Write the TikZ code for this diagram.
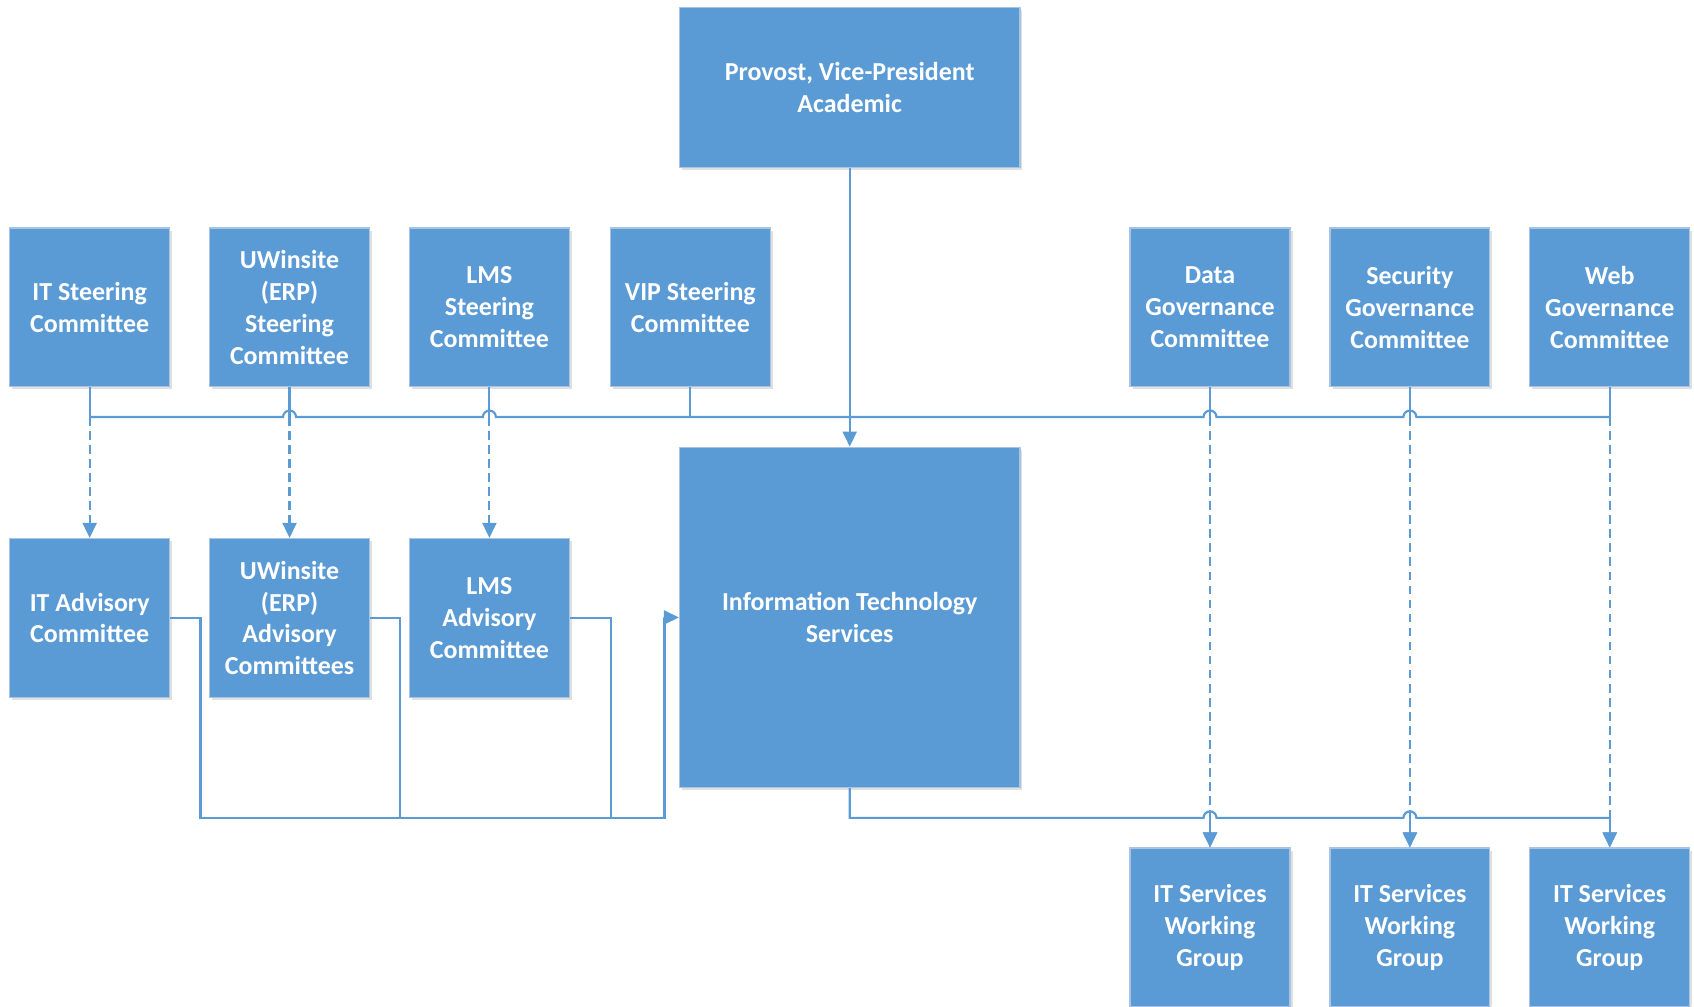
\documentclass[tikz,border=0pt]{standalone}
\usepackage{fontspec}
\setmainfont{Carlito}
\usetikzlibrary{arrows.meta,shadows}
\definecolor{boxblue}{HTML}{5B9BD5}
\definecolor{boxedge}{HTML}{A9C4E3}
\begin{document}
\begin{tikzpicture}[x=0.5pt,y=-0.5pt,
  box/.style={rectangle, fill=boxblue, draw=boxedge, line width=0.6pt,
    minimum width=74pt, minimum height=73.5pt, inner sep=0pt, align=center,
    text=white, font=\fontsize{12}{14.75}\selectfont\bfseries,
    drop shadow={shadow xshift=1.2pt,shadow yshift=-1.2pt,fill=black,opacity=0.12}},
  bigbox/.style={box, minimum width=157.5pt},
  link/.style={draw=boxblue, line width=1pt},
  tip/.style={-{Triangle[width=6.5pt,length=7pt]}},
  dashlink/.style={link, dash pattern=on 4pt off 2.5pt}]
\useasboundingbox (0,0) rectangle (1568,932);

% top
\node[bigbox, minimum height=74pt] (prov) at (786.5,81) {Provost, Vice-President\\Academic};
% steering row
\node[box] (itst) at (83,284.5) {IT Steering\\Committee};
\node[box] (uwst) at (268,284.5) {UWinsite\\(ERP)\\Steering\\Committee};
\node[box] (lmst) at (453,284.5) {LMS\\Steering\\Committee};
\node[box] (vipst) at (639,284.5) {VIP Steering\\Committee};
\node[box] (datag) at (1120,284.5) {Data\\Governance\\Committee};
\node[box] (secg) at (1305,284.5) {Security\\Governance\\Committee};
\node[box] (webg) at (1490,284.5) {Web\\Governance\\Committee};
% advisory row
\node[box] (itadv) at (83,572) {IT Advisory\\Committee};
\node[box] (uwadv) at (268,572) {UWinsite\\(ERP)\\Advisory\\Committees};
\node[box] (lmsadv) at (453,572) {LMS\\Advisory\\Committee};
\node[bigbox, minimum height=157.5pt] (its) at (786.5,571.5) {Information Technology\\Services};
% working groups
\node[box] (wg1) at (1120,858.5) {IT Services\\Working\\Group};
\node[box] (wg2) at (1305,858.5) {IT Services\\Working\\Group};
\node[box] (wg3) at (1490,858.5) {IT Services\\Working\\Group};

% bus coordinates
\coordinate (busy) at (0,386);
\coordinate (lowy) at (0,757);
\coordinate (ja) at (615,757);

% stubs from steering boxes to bus
\foreach \n in {itst,uwst,lmst,vipst,datag,secg,webg}
  \draw[link] (\n.south) -- (\n.south |- busy);

% steering bus with jumps
\draw[link] (itst.south |- busy) -- ([xshift=-3pt]uwst.south |- busy)
  arc[start angle=180,end angle=360,radius=6]
  -- ([xshift=-3pt]lmst.south |- busy)
  arc[start angle=180,end angle=360,radius=6]
  -- ([xshift=-3pt]datag.south |- busy)
  arc[start angle=180,end angle=360,radius=6]
  -- ([xshift=-3pt]secg.south |- busy)
  arc[start angle=180,end angle=360,radius=6]
  -- (webg.south |- busy);

% provost to ITS
\draw[link,tip] (prov.south) -- (its.north);

% dashed reporting lines
\draw[dashlink,tip] (itst.south |- busy) -- (itadv.north);
\draw[dashlink,tip] (uwst.south |- busy) -- (uwadv.north);
\draw[dashlink,tip] (lmst.south |- busy) -- (lmsadv.north);
\draw[dashlink,tip] (datag.south |- busy) -- (wg1.north);
\draw[dashlink,tip] (secg.south |- busy) -- (wg2.north);
\draw[dashlink,tip] (webg.south |- busy) -- (wg3.north);

% advisory committees to ITS
\draw[link,tip] (itadv.east) -- ++(28,0) |- (ja) |- (its.west);
\draw[link] (uwadv.east) -- ++(28,0) |- (ja);
\draw[link] (lmsadv.east) -- ++(38,0) |- (ja);

% ITS to working groups
\draw[link] (its.south) -- (its.south |- lowy)
  -- ([xshift=-3pt]wg1.north |- lowy)
  arc[start angle=180,end angle=360,radius=6]
  -- ([xshift=-3pt]wg2.north |- lowy)
  arc[start angle=180,end angle=360,radius=6]
  -- (wg3.north |- lowy);
\draw[link,tip] (wg1.north |- lowy) -- (wg1.north);
\draw[link,tip] (wg2.north |- lowy) -- (wg2.north);
\draw[link,tip] (wg3.north |- lowy) -- (wg3.north);
\end{tikzpicture}
\end{document}
